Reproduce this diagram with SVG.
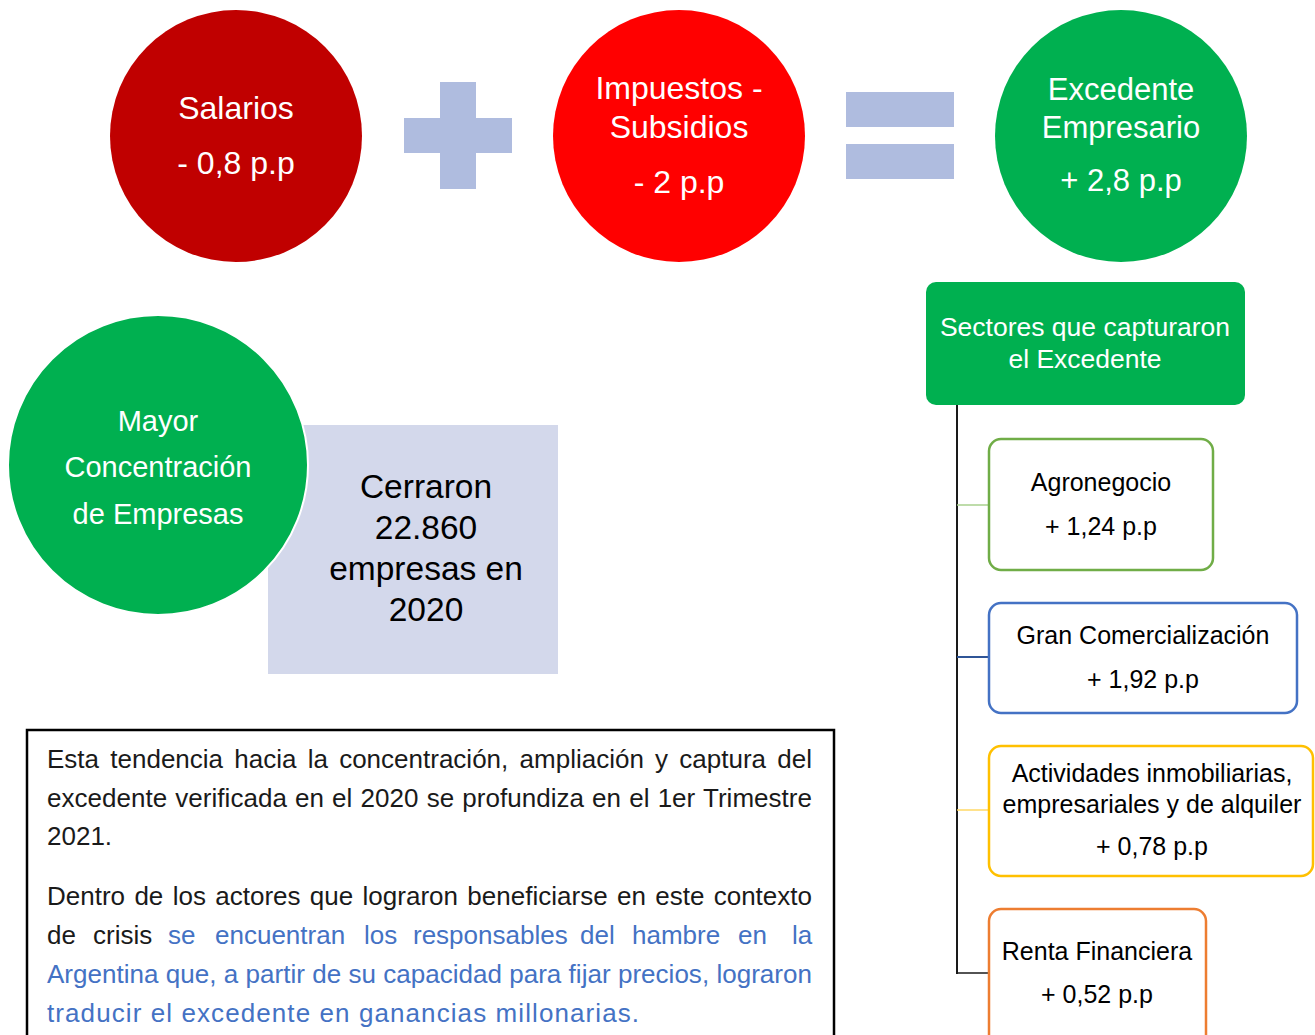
<svg xmlns="http://www.w3.org/2000/svg" width="1315" height="1035" viewBox="0 0 1315 1035">
<style>
.t{font-family:"Liberation Sans",Arial,sans-serif;text-anchor:middle}
.w{fill:#ffffff}
.k{fill:#000000}
.sym{fill:#AFBCDF}
.box{fill:#ffffff;stroke-width:2.5}
.p{font-family:"Liberation Sans",Arial,sans-serif;font-size:26px;fill:#1a1a1a}
.b{fill:#4472C4}
</style>
<rect width="1315" height="1035" fill="#ffffff"/>
<g id="salarios">
<circle cx="236" cy="136" r="126" fill="#C00000"/>
<text class="t w" x="236" y="119" font-size="32">Salarios</text>
<text class="t w" x="236" y="174" font-size="32">- 0,8 p.p</text>
</g>
<g id="plus">
<rect class="sym" x="440" y="82" width="36" height="107"/>
<rect class="sym" x="404" y="118" width="108" height="35"/>
</g>
<g id="impuestos">
<circle cx="679" cy="136" r="126" fill="#FF0000"/>
<text class="t w" x="679" y="99" font-size="32">Impuestos -</text>
<text class="t w" x="679" y="138" font-size="32">Subsidios</text>
<text class="t w" x="679" y="193" font-size="32">- 2 p.p</text>
</g>
<g id="equals">
<rect class="sym" x="846" y="92" width="108" height="35"/>
<rect class="sym" x="846" y="144" width="108" height="35"/>
</g>
<g id="excedente">
<circle cx="1121" cy="136" r="126" fill="#00B050"/>
<text class="t w" x="1121" y="100" font-size="31">Excedente</text>
<text class="t w" x="1121" y="138" font-size="31">Empresario</text>
<text class="t w" x="1121" y="191" font-size="31">+ 2,8 p.p</text>
</g>
<g id="connectors" fill="none">
<line x1="957" y1="405" x2="957" y2="974" stroke="#1a1a1a" stroke-width="2"/>
<line x1="957" y1="505" x2="989" y2="505" stroke="#A9D18E" stroke-width="1.5"/>
<line x1="957" y1="657" x2="989" y2="657" stroke="#2F5597" stroke-width="2"/>
<line x1="957" y1="810" x2="989" y2="810" stroke="#FFD966" stroke-width="1.5"/>
<line x1="956" y1="973" x2="989" y2="973" stroke="#1a1a1a" stroke-width="1.5"/>
</g>
<g id="sectores">
<rect x="926" y="282" width="319" height="123" rx="10" fill="#00B050"/>
<text class="t w" x="1085" y="336" font-size="26.5">Sectores que capturaron</text>
<text class="t w" x="1085" y="368" font-size="26.5">el Excedente</text>
</g>
<g id="agronegocio">
<rect class="box" x="989" y="439" width="224" height="131" rx="12" stroke="#70AD47"/>
<text class="t k" x="1101" y="491" font-size="25">Agronegocio</text>
<text class="t k" x="1101" y="535" font-size="25">+ 1,24 p.p</text>
</g>
<g id="gran-comercializacion">
<rect class="box" x="989" y="603" width="308" height="110" rx="12" stroke="#4472C4"/>
<text class="t k" x="1143" y="644" font-size="25">Gran Comercialización</text>
<text class="t k" x="1143" y="688" font-size="25">+ 1,92 p.p</text>
</g>
<g id="actividades">
<rect class="box" x="989" y="746" width="324" height="130" rx="12" stroke="#FFC000"/>
<text class="t k" x="1152" y="782" font-size="25">Actividades inmobiliarias,</text>
<text class="t k" x="1152" y="813" font-size="25">empresariales y de alquiler</text>
<text class="t k" x="1152" y="855" font-size="25">+ 0,78 p.p</text>
</g>
<g id="renta">
<rect class="box" x="989" y="909" width="217" height="140" rx="12" stroke="#ED7D31"/>
<text class="t k" x="1097" y="960" font-size="25">Renta Financiera</text>
<text class="t k" x="1097" y="1003" font-size="25">+ 0,52 p.p</text>
</g>
<g id="cerraron">
<rect x="268" y="425" width="290" height="249" fill="#D3D8EB"/>
<text class="t k" x="426" y="498" font-size="33.5">Cerraron</text>
<text class="t k" x="426" y="539" font-size="33.5">22.860</text>
<text class="t k" x="426" y="580" font-size="33.5">empresas en</text>
<text class="t k" x="426" y="621" font-size="33.5">2020</text>
</g>
<g id="mayor-concentracion">
<circle cx="158" cy="465" r="150" fill="#00B050" stroke="#ffffff" stroke-width="2"/>
<text class="t w" x="158" y="431" font-size="29">Mayor</text>
<text class="t w" x="158" y="477" font-size="29">Concentración</text>
<text class="t w" x="158" y="524" font-size="29">de Empresas</text>
</g>
<g id="texto">
<rect x="27" y="730" width="807" height="320" fill="#ffffff" stroke="#000000" stroke-width="2.5"/>
<text class="p" x="47" y="768" word-spacing="4" textLength="765" lengthAdjust="spacing">Esta tendencia hacia la concentración, ampliación y captura del</text>
<text class="p" x="47" y="807" word-spacing="0.9" textLength="765" lengthAdjust="spacing">excedente verificada en el 2020 se profundiza en el 1er Trimestre</text>
<text class="p" x="47" y="845">2021.</text>
<text class="p" x="47" y="905" word-spacing="2.1" textLength="765" lengthAdjust="spacing">Dentro de los actores que lograron beneficiarse en este contexto</text>
<text class="p" y="944"><tspan x="47">de</tspan><tspan x="93">crisis</tspan><tspan class="b" x="168">se</tspan><tspan class="b" x="215">encuentran</tspan><tspan class="b" x="364">los</tspan><tspan class="b" x="413">responsables</tspan><tspan class="b" x="580">del</tspan><tspan class="b" x="632">hambre</tspan><tspan class="b" x="738">en</tspan><tspan class="b" x="792">la</tspan></text>
<text class="p b" x="47" y="983" textLength="765" lengthAdjust="spacing">Argentina que, a partir de su capacidad para fijar precios, lograron</text>
<text class="p b" x="47" y="1022" font-size="27" textLength="592" lengthAdjust="spacing">traducir el excedente en ganancias millonarias.</text>
</g>
</svg>
